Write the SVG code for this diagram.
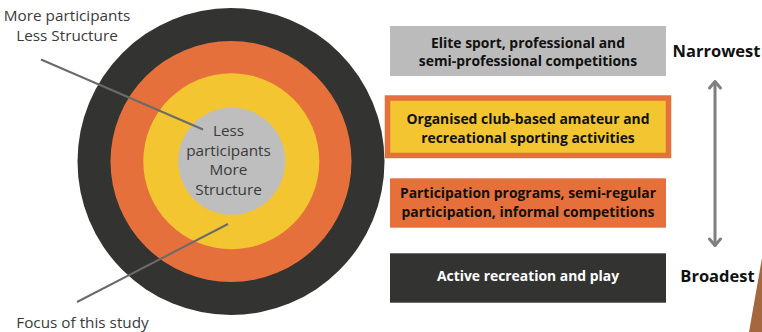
<svg xmlns="http://www.w3.org/2000/svg" width="762" height="332" viewBox="0 0 762 332">
<defs>
<style>
.lbl{font-family:"Open Sans","Liberation Sans",sans-serif;font-size:15.3px;fill:#3a3a3a;text-anchor:middle}
.bx{font-family:"Open Sans","Liberation Sans",sans-serif;font-size:13.9px;font-weight:bold;fill:#111;text-anchor:middle}
.side{font-family:"Open Sans","Liberation Sans",sans-serif;font-size:16.5px;font-weight:bold;fill:#111;text-anchor:middle}
.lead{stroke:#6b6b6b;stroke-width:2;fill:none}
.arr{stroke:#7f7f7f;stroke-width:3;fill:none;stroke-linecap:round;stroke-linejoin:round}
</style>
</defs>
<rect width="762" height="332" fill="#ffffff"/>
<polygon points="762,258 749,332 762,332" fill="#a4673f"/>
<g id="target">
<circle cx="231" cy="161.5" r="153.5" fill="#333331"/>
<circle cx="231" cy="161.5" r="120.5" fill="#e5703c"/>
<circle cx="231.3" cy="161.3" r="88" fill="#f2c531"/>
<circle cx="231.7" cy="161.3" r="53.5" fill="#bebebe"/>
</g>
<g id="center-label">
<text class="lbl"><tspan x="228.5" y="136">Less</tspan><tspan x="228.5" y="155.5">participants</tspan><tspan x="228.5" y="175">More</tspan><tspan x="228.5" y="194.5">Structure</tspan></text>
</g>
<g id="top-label">
<text class="lbl"><tspan x="67" y="21">More participants</tspan><tspan x="67" y="41">Less Structure</tspan></text>
</g>
<g id="bottom-label">
<text class="lbl" x="82.5" y="328">Focus of this study</text>
</g>
<g id="connectors">
<line class="lead" x1="41" y1="59.5" x2="203" y2="129.5"/>
<line class="lead" x1="228" y1="224" x2="77" y2="302"/>
<line class="arr" x1="715" y1="82" x2="715" y2="245"/>
<polyline class="arr" points="709.5,88 715,81.5 720.5,88"/>
<polyline class="arr" points="709.5,239 715,245.5 720.5,239"/>
</g>
<g id="box-elite">
<rect x="390" y="26" width="276" height="50" fill="#bbbbbb"/>
<text class="bx"><tspan x="528" y="47.5">Elite sport, professional and</tspan><tspan x="528" y="65.5">semi-professional competitions</tspan></text>
</g>
<g id="box-club">
<rect x="387.5" y="98" width="281" height="57.5" fill="#f2c531" stroke="#e5703c" stroke-width="5.5"/>
<text class="bx"><tspan x="528" y="124">Organised club-based amateur and</tspan><tspan x="528" y="142.5">recreational sporting activities</tspan></text>
</g>
<g id="box-participation">
<rect x="390" y="178.3" width="276" height="49.4" fill="#e5703c"/>
<text class="bx"><tspan x="528" y="197.5">Participation programs, semi-regular</tspan><tspan x="528" y="216.5">participation, informal competitions</tspan></text>
</g>
<g id="box-active">
<rect x="390" y="253.3" width="276" height="49.4" fill="#333331"/>
<text class="bx" x="528" y="281" style="fill:#ffffff">Active recreation and play</text>
</g>
<g id="narrowest">
<text class="side" x="716.5" y="56.5">Narrowest</text>
</g>
<g id="broadest">
<text class="side" x="717.5" y="281.5">Broadest</text>
</g>
</svg>
